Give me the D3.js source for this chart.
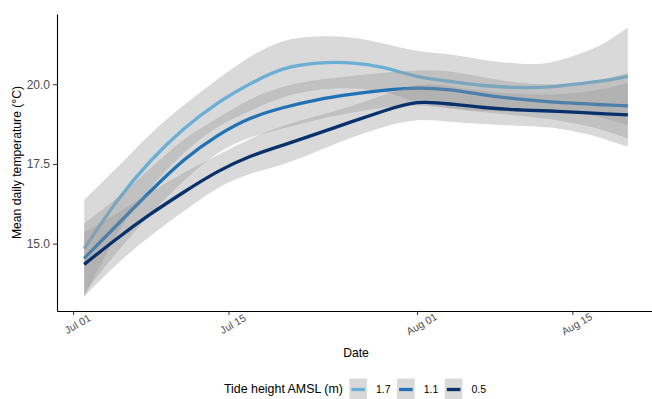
<!DOCTYPE html>
<html>
<head>
<meta charset="utf-8">
<script src="https://cdn.jsdelivr.net/npm/d3@7"></script>
<style>
  html, body { margin: 0; padding: 0; background: #fff; }
  svg { display: block; font-family: "Liberation Sans", Arial, Helvetica, sans-serif; }
</style>
</head>
<body>
<svg id="chart" width="652" height="399"></svg>
<script>
// Smoothed mean daily temperature per tide height, with confidence band half-widths
const sampleDates = [
  "2020-07-02", "2020-07-05", "2020-07-08", "2020-07-11", "2020-07-14", "2020-07-17",
  "2020-07-20", "2020-07-23", "2020-07-26", "2020-07-29", "2020-08-01", "2020-08-04",
  "2020-08-07", "2020-08-10", "2020-08-13", "2020-08-16", "2020-08-18", "2020-08-20"
];
const tideLevels = ["1.7", "1.1", "0.5"];

const fit17  = [14.84, 16.35, 17.60, 18.60, 19.40, 20.02, 20.48, 20.66, 20.67, 20.52, 20.25, 20.09, 19.96, 19.90, 19.92, 20.03, 20.12, 20.25];
const band17 = [1.53, 1.05, 0.85, 0.75, 0.75, 0.85, 0.88, 0.84, 0.80, 0.76, 0.80, 0.84, 0.80, 0.75, 0.76, 0.97, 1.20, 1.53];

const fit11  = [14.54, 15.60, 16.65, 17.62, 18.38, 18.93, 19.27, 19.51, 19.68, 19.81, 19.88, 19.82, 19.67, 19.54, 19.45, 19.39, 19.35, 19.32];
const band11 = [1.10, 0.85, 0.72, 0.65, 0.55, 0.60, 0.65, 0.62, 0.58, 0.55, 0.55, 0.58, 0.55, 0.52, 0.55, 0.68, 0.82, 1.03];

const fit05  = [14.35, 15.17, 15.93, 16.62, 17.25, 17.74, 18.10, 18.45, 18.81, 19.16, 19.42, 19.38, 19.27, 19.20, 19.16, 19.11, 19.07, 19.04];
const band05 = [1.00, 0.80, 0.68, 0.60, 0.52, 0.55, 0.60, 0.55, 0.50, 0.50, 0.55, 0.56, 0.52, 0.50, 0.52, 0.65, 0.80, 1.00];

const xTickDates = ["2020-07-01", "2020-07-15", "2020-08-01", "2020-08-15"];
const yTickValues = [15.0, 17.5, 20.0];

// Styling
const lineColors = ["#6baed6", "#2171b5", "#08306b"];
const bandFill = "#999999";
const bandOpacity = 0.37;
const inkGrey = "#4d4d4d";

const parseDate = d3.utcParse("%Y-%m-%d");
const dates = sampleDates.map(parseDate);
const fits = [fit17, fit11, fit05];
const bands = [band17, band11, band05];

const series = tideLevels.map((level, i) => ({
  level,
  color: lineColors[i],
  points: dates.map((date, j) => ({ date, fit: fits[i][j], half: bands[i][j] }))
}));

const svg = d3.select("#chart");
const panel = { left: 57, right: 655, top: 14, bottom: 311 };

// Scales with 5% expansion on both sides of the data range
const xMin = d3.min(dates), xMax = d3.max(dates);
const xPad = 0.05 * (xMax - xMin);
const x = d3.scaleUtc()
  .domain([new Date(+xMin - xPad), new Date(+xMax + xPad)])
  .range([panel.left, panel.right]);

const lo = d3.min(series, s => d3.min(s.points, p => p.fit - p.half));
const hi = d3.max(series, s => d3.max(s.points, p => p.fit + p.half));
const yPad = 0.05 * (hi - lo);
const y = d3.scaleLinear()
  .domain([lo - yPad, hi + yPad])
  .range([panel.bottom, panel.top]);

const curve = d3.curveNatural;
const band = d3.area()
  .x(p => x(p.date))
  .y0(p => y(p.fit - p.half))
  .y1(p => y(p.fit + p.half))
  .curve(curve);
const line = d3.line()
  .x(p => x(p.date))
  .y(p => y(p.fit))
  .curve(curve);

// Each group: band first, then its line
const layers = svg.append("g");
series.forEach(s => {
  layers.append("path")
    .attr("d", band(s.points))
    .attr("fill", bandFill)
    .attr("fill-opacity", bandOpacity);
  layers.append("path")
    .attr("d", line(s.points))
    .attr("fill", "none")
    .attr("stroke", s.color)
    .attr("stroke-width", 3.3)
    .attr("stroke-linecap", "butt");
});

// Y axis
const yAxis = svg.append("g")
  .attr("transform", `translate(${panel.left},0)`)
  .call(d3.axisLeft(y).tickValues(yTickValues).tickFormat(d3.format(".1f")).tickSize(4).tickSizeOuter(0).tickPadding(3));
yAxis.select(".domain").attr("stroke", "#000").attr("stroke-width", 1.1);
yAxis.selectAll(".tick line").attr("stroke", "#333");
yAxis.selectAll(".tick text")
  .attr("fill", inkGrey)
  .style("font-size", "12px");

// X axis
const xAxis = svg.append("g")
  .attr("transform", `translate(0,${panel.bottom})`)
  .call(d3.axisBottom(x).tickValues(xTickDates.map(parseDate)).tickFormat(d3.utcFormat("%b %d")).tickSize(4).tickSizeOuter(0));
xAxis.select(".domain").attr("stroke", "#000").attr("stroke-width", 1.1);
xAxis.selectAll(".tick line").attr("stroke", "#333");
xAxis.selectAll(".tick text")
  .attr("fill", inkGrey)
  .attr("y", 0)
  .attr("dy", "0.35em")
  .attr("text-anchor", "middle")
  .attr("transform", "translate(4,13) rotate(-30)")
  .style("font-size", "10.5px");

// Axis titles
svg.append("text")
  .attr("transform", `translate(17,${(panel.top + panel.bottom) / 2}) rotate(-90)`)
  .attr("text-anchor", "middle")
  .attr("dominant-baseline", "central")
  .style("font-size", "12.2px")
  .attr("fill", "#000")
  .text("Mean daily temperature (°C)");

svg.append("text")
  .attr("x", 356)
  .attr("y", 353)
  .attr("text-anchor", "middle")
  .attr("dominant-baseline", "central")
  .style("font-size", "12.2px")
  .attr("fill", "#000")
  .text("Date");

// Legend
const legendY = 389;
const legend = svg.append("g");
const title = legend.append("text")
  .attr("x", 0)
  .attr("y", legendY)
  .attr("dominant-baseline", "central")
  .style("font-size", "12.4px")
  .attr("fill", "#000")
  .text("Tide height AMSL (m)");
let cursor = title.node().getComputedTextLength() + 6.5;
const keyW = 17.6, keyH = 21;
series.forEach(s => {
  legend.append("rect")
    .attr("x", cursor).attr("y", legendY - keyH / 2)
    .attr("width", keyW).attr("height", keyH)
    .attr("fill", bandFill).attr("fill-opacity", bandOpacity);
  legend.append("line")
    .attr("x1", cursor + 2).attr("x2", cursor + keyW - 2)
    .attr("y1", legendY + 0.5).attr("y2", legendY + 0.5)
    .attr("stroke", s.color).attr("stroke-width", 3.3);
  const lbl = legend.append("text")
    .attr("x", cursor + keyW + 9)
    .attr("y", legendY)
    .attr("dominant-baseline", "central")
    .style("font-size", "10.5px")
    .attr("fill", "#000")
    .text(s.level);
  cursor += keyW + 9 + lbl.node().getComputedTextLength() + 6.5;
});
const legendWidth = cursor - 6.5;
legend.attr("transform", `translate(${355 - legendWidth / 2},0)`);
</script>
</body>
</html>
